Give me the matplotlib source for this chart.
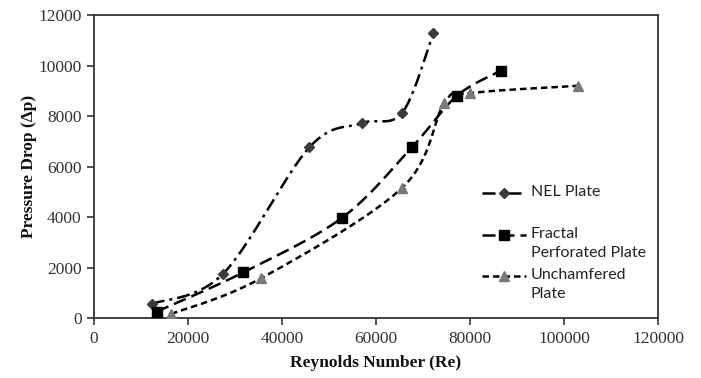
import numpy as np
import matplotlib
matplotlib.use("Agg")
import matplotlib.pyplot as plt
from matplotlib.lines import Line2D

# ---- data ----
nel_re = [12300, 27400, 45800, 57000, 65600, 72200]
nel_dp = [570, 1750, 6760, 7720, 8140, 11290]

fractal_re = [13300, 31800, 52800, 67600, 77200, 86500]
fractal_dp = [260, 1820, 3980, 6760, 8800, 9790]

unch_re = [16400, 35500, 65600, 74500, 80000, 103000]
unch_dp = [170, 1580, 5170, 8500, 8910, 9200]

labels = ["NEL Plate", "Fractal\nPerforated Plate", "Unchamfered\nPlate"]
xticks = [0, 20000, 40000, 60000, 80000, 100000, 120000]
yticks = [0, 2000, 4000, 6000, 8000, 10000, 12000]


def smooth(xs, ys, n=40):
    """Excel-style smoothed line (Catmull-Rom Bezier through the points)."""
    P = np.column_stack([xs, ys]).astype(float)
    out = [P[0]]
    for i in range(len(P) - 1):
        p0 = P[i - 1] if i > 0 else P[i]
        p1, p2 = P[i], P[i + 1]
        p3 = P[i + 2] if i + 2 < len(P) else P[i + 1]
        c1 = p1 + (p2 - p0) / 6.0
        c2 = p2 - (p3 - p1) / 6.0
        t = np.linspace(0, 1, n)[1:, None]
        seg = ((1 - t) ** 3) * p1 + 3 * ((1 - t) ** 2) * t * c1 + 3 * (1 - t) * t ** 2 * c2 + t ** 3 * p2
        out.extend(seg)
    out = np.array(out)
    return out[:, 0], out[:, 1]


W, H = 701, 378
fig = plt.figure(figsize=(W / 100, H / 100), dpi=100)
ax = fig.add_axes([94 / W, (H - 318.3) / H, (658 - 94) / W, (318.3 - 15) / H])

lw = 1.8
styles = [
    dict(dashes=(5.2, 2.0, 1.2, 2.0), marker="D", ms=5.5, mfc="#3a3a3a", mec="#3a3a3a"),
    dict(dashes=(5.2, 2.4), marker="s", ms=6.5, mfc="black", mec="black"),
    dict(dashes=(2.6, 1.6), marker="^", ms=6.5, mfc="#7a7a7a", mec="#7a7a7a"),
]
series = [(nel_re, nel_dp), (fractal_re, fractal_dp), (unch_re, unch_dp)]

for (xs, ys), st in zip(series, styles):
    sx, sy = smooth(xs, ys)
    ax.plot(sx, sy, color="black", lw=lw, dashes=st["dashes"], zorder=2)
    ax.plot(xs, ys, ls="none", marker=st["marker"], ms=st["ms"],
            mfc=st["mfc"], mec=st["mec"], zorder=3)

ax.set_xlim(0, 120000)
ax.set_ylim(0, 12000)
ax.set_xticks(xticks)
ax.set_yticks(yticks)
ax.set_xticklabels([str(v) for v in xticks])
ax.set_yticklabels([str(v) for v in yticks])

serif = "Liberation Serif"
for lab in ax.get_xticklabels() + ax.get_yticklabels():
    lab.set_fontfamily(serif)
    lab.set_fontsize(12.5)
    lab.set_color("#222222")
ax.tick_params(direction="out", length=5, width=1.2, colors="#333333", pad=4)
for sp in ax.spines.values():
    sp.set_linewidth(1.3)
    sp.set_color("#333333")

ax.set_xlabel("Reynolds Number (Re)", fontfamily=serif, fontweight="bold",
              fontsize=12.5, labelpad=6, color="#111111")
ax.set_ylabel("Pressure Drop (\u0394p)", fontfamily=serif, fontweight="bold",
              fontsize=12.5, labelpad=1, color="#111111")

# ---- manual legend (handle aligned with first line of label, Excel style) ----
leg_font = "Lato"
handle_x0, handle_x1, text_x = 481.7, 525.7, 531
rows_y = [193, 235, 276]
for y, st, lab in zip(rows_y, styles, labels):
    fy = 1 - y / H
    fig.add_artist(Line2D([handle_x0 / W, handle_x1 / W], [fy, fy], color="black",
                          lw=lw, dashes=st["dashes"], transform=fig.transFigure))
    fig.add_artist(Line2D([(handle_x0 + handle_x1) / 2 / W], [fy], ls="none",
                          marker=st["marker"], ms=st["ms"], mfc=st["mfc"], mec=st["mec"],
                          transform=fig.transFigure))
    fig.text(text_x / W, fy + 8 / H, lab, fontfamily=leg_font, fontsize=11.5,
             color="#222222", va="top", ha="left", linespacing=1.45,
             transform=fig.transFigure)

fig.savefig("out.png", dpi=100)
